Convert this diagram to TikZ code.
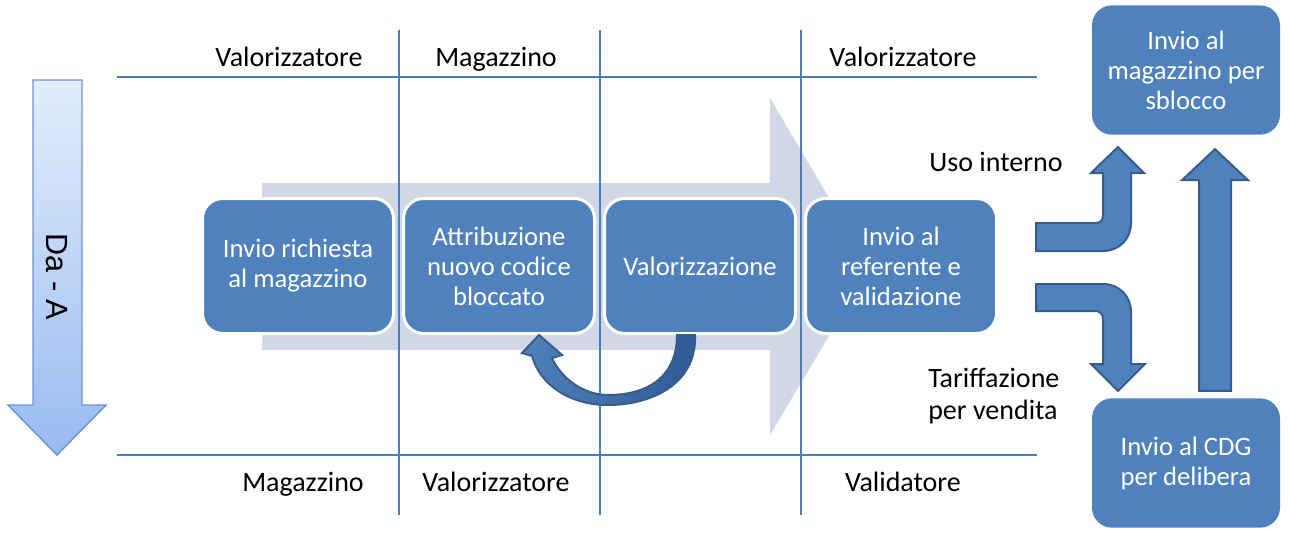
\documentclass[tikz,border=0pt]{standalone}
\usepackage{fontspec}
\setmainfont{Carlito}
\newfontfamily\dirfont{Liberation Sans}
\usepackage{tikz}
\usetikzlibrary{calc, positioning}

\definecolor{boxblue}{HTML}{4F81BD}
\definecolor{edgeblue}{HTML}{385D8A}
\definecolor{bandgrey}{HTML}{D0D8E8}
\definecolor{lineblue}{HTML}{4A7EBB}
\definecolor{loopdark}{HTML}{2F5A94}
\definecolor{dirtop}{HTML}{E3EDFB}
\definecolor{dirbot}{HTML}{98BBF1}
\definecolor{diredge}{HTML}{6A93D4}

\tikzset{
    procbox/.style={rectangle, rounded corners=15pt, fill=boxblue, draw=white, line width=2.25pt,
        text=white, minimum width=143.25pt, minimum height=101.25pt, align=center,
        font=\fontsize{20}{22.5}\selectfont},
    sidebox/.style={procbox, draw=none, minimum width=141pt, minimum height=97pt},
    role/.style={font=\fontsize{21}{24}\selectfont, inner sep=0pt},
    lane/.style={lineblue, line width=1.1pt},
    blockarrow/.style={fill=boxblue, draw=edgeblue, line width=1.5pt, line join=miter}
}

\begin{document}
\begin{tikzpicture}[x=0.75pt, y=-0.75pt]

    \useasboundingbox (0,0) rectangle (1290,533);

    % --- BACKGROUND BAND ARROW ---
    \fill[bandgrey] (262,183) -- (770,183) -- (770,98) -- (870,267) -- (770,435) -- (770,350) -- (262,350) -- cycle;

    % --- LANES ---
    \draw[lane] (117,77) -- (1037,77);
    \draw[lane] (117,455) -- (1037,455);
    \foreach \lx in {399, 600, 801}
        \draw[lane] (\lx,30) -- (\lx,515);

    % Role labels, top and bottom
    \node[role, anchor=base] (topA) at (289,66) {Valorizzatore};
    \node[role, anchor=base] (topB) at (496,66) {Magazzino};
    \node[role, anchor=base] (topD) at (903,66) {Valorizzatore};
    \node[role, anchor=base] (botA) at (303,491) {Magazzino};
    \node[role, anchor=base] (botB) at (496,491) {Valorizzatore};
    \node[role, anchor=base] (botD) at (903,491) {Validatore};

    % --- LEFT: DIRECTION ARROW ---
    \path[draw=diredge, line width=1.1pt, top color=dirtop, bottom color=dirbot]
        (33,80) -- (82,80) -- (82,405) -- (106,405) -- (57,455) -- (8,405) -- (33,405) -- cycle;
    \node[rotate=-90, font=\dirfont\fontsize{23}{26}\selectfont] (dir) at (57,277) {Da - A};

    % --- PROCESS STEPS ---
    \node[procbox] (req) at (298,266) {Invio richiesta\\al magazzino};
    \node[procbox, right=5.25pt of req] (attr) {Attribuzione\\nuovo codice\\bloccato};
    \node[procbox, right=5.25pt of attr] (val) {Valorizzazione};
    \node[procbox, right=5.25pt of val] (ref) {Invio al\\referente e\\validazione};

    % Loop back from Valorizzazione to Attribuzione
    \path[draw=edgeblue, line width=1.5pt, left color=boxblue, right color=loopdark]
        (677,335) -- (695,335)
        .. controls (697,385) and (650,405) .. (608,405)
        .. controls (570,405) and (540,385) .. (532,356)
        -- (522,353) -- (539,335) -- (562,355) -- (552,358)
        .. controls (562,380) and (585,395) .. (608,395)
        .. controls (650,395) and (677,375) .. (677,335) -- cycle;

    % --- RIGHT: OUTCOMES ---
    \node[sidebox] (sblocco) at (1186,70) {Invio al\\magazzino per\\sblocco};
    \node[sidebox] (cdg) at (1186,463) {Invio al CDG\\per delibera};

    \node[role, anchor=base] (uso) at (996,171) {Uso interno};
    \node[role, anchor=west, align=left] (tarif) at (928,396) {Tariffazione\\per vendita};

    % Bent arrow up (Uso interno)
    \draw[blockarrow] (1036,223) -- (1096,223) .. controls (1100,223) and (1103,220) .. (1103,216)
        -- (1103,173) -- (1091,173) -- (1118,147) -- (1144,173) -- (1131,173) -- (1131,223)
        .. controls (1131,239) and (1119,251) .. (1103,251) -- (1036,251) -- cycle;

    % Bent arrow down (Tariffazione)
    \draw[blockarrow] (1036,284) -- (1103,284) .. controls (1119,284) and (1131,296) .. (1131,312)
        -- (1131,364) -- (1145,364) -- (1118,391) -- (1091,364) -- (1103,364) -- (1103,319)
        .. controls (1103,315) and (1100,311) .. (1096,311) -- (1036,311) -- cycle;

    % Straight arrow from CDG back up to sblocco
    \coordinate (upfoot) at ($(cdg.north)+(29,-6)$);
    \coordinate (uptip) at ($(sblocco.south)+(29,13)$);
    \draw[blockarrow] ($(upfoot)+(-16,0)$) -- ($(upfoot)+(16,0)$) -- ($(uptip)+(16,31)$) -- ($(uptip)+(33,31)$)
        -- (uptip) -- ($(uptip)+(-33,31)$) -- ($(uptip)+(-16,31)$) -- cycle;

\end{tikzpicture}
\end{document}
